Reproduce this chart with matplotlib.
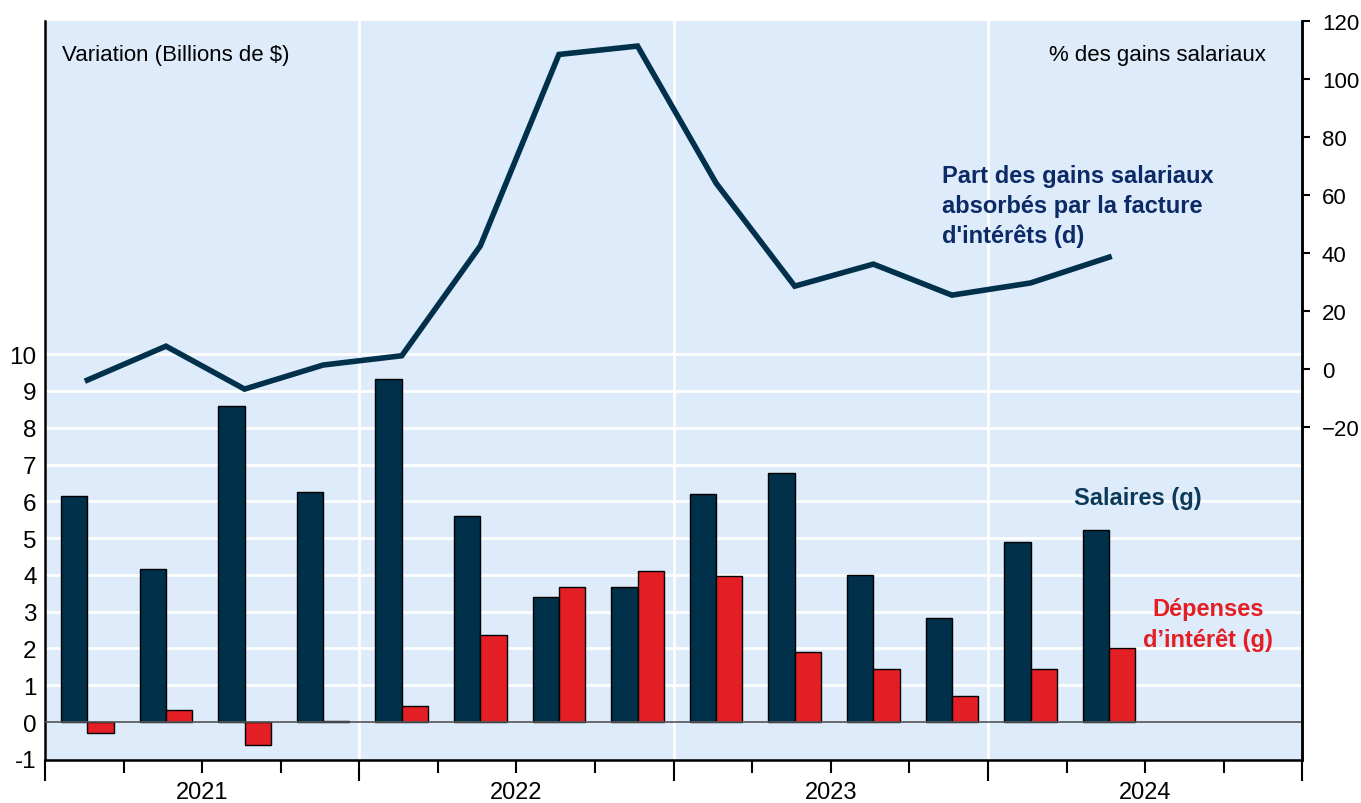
import numpy as np
import matplotlib.pyplot as plt

plt.rcParams['font.family'] = ['Liberation Sans', 'DejaVu Sans']

# quarterly data, 2021T1 to 2024T2
years = ["2021", "2022", "2023", "2024"]
salaires = [6.15, 4.15, 8.58, 6.25, 9.32, 5.6, 3.4, 3.68, 6.2, 6.77, 4.0, 2.83, 4.9, 5.22]
depenses = [-0.3, 0.33, -0.62, 0.03, 0.43, 2.36, 3.68, 4.1, 3.97, 1.9, 1.44, 0.7, 1.44, 2.0]
part = [-3.8, 7.9, -6.9, 1.4, 4.6, 42.5, 108.5, 111.4, 64.1, 28.6, 36.2, 25.5, 29.7, 38.6]

navy = '#00304A'
red = '#E31E24'
bg = '#DDEBFB'

fig = plt.figure(figsize=(13.61, 8.04), dpi=100)
ax = fig.add_axes([0.033, 0.0535, 0.924, 0.919])
ax.set_facecolor(bg)

x = np.arange(len(salaires))
w = 0.335
ax.bar(x - w / 2 + 0.04, salaires, w, color=navy, edgecolor='black', linewidth=1, zorder=3)
ax.bar(x + w / 2 + 0.04, depenses, w, color=red, edgecolor='black', linewidth=1, zorder=3)

ax.set_xlim(-0.5, 15.5)
ax.set_ylim(-1.03, 19.05)

# white grid lines
for v in range(1, 11):
    ax.axhline(v, color='white', lw=2, zorder=1)
for b in [3.5, 7.5, 11.5]:
    ax.axvline(b, color='white', lw=2, zorder=1)
ax.axhline(0, color='#555555', lw=1.2, zorder=4)

ax.set_yticks(range(-1, 11))
ax.set_yticklabels([str(v) for v in range(-1, 11)])
ax.tick_params(axis='y', length=0, labelsize=17.5, pad=6)

ax.set_xticks([-0.5, 3.5, 7.5, 11.5, 15.5])
ax.set_xticklabels([])
ax.set_xticks(np.arange(-0.5, 15.6, 1), minor=True)
ax.tick_params(axis='x', which='major', length=15, width=1.5, direction='out')
ax.tick_params(axis='x', which='minor', length=9, width=1.5, direction='out')
for i, yr in enumerate(years):
    ax.text(4 * i + 1.5, -0.043, yr, transform=ax.get_xaxis_transform(),
            ha='center', va='center', fontsize=17)

for s in ['left', 'bottom', 'right']:
    ax.spines[s].set_linewidth(1.8)
ax.spines['top'].set_visible(False)

ax2 = ax.twinx()
ax2.plot(x + 0.04, part, color=navy, lw=4, solid_joinstyle='miter', zorder=5)
ax2.set_ylim(-134.8, 120)
ax2.set_yticks(range(-20, 121, 20))
ax2.tick_params(axis='y', length=6, width=1.5, labelsize=16, pad=8)
ax2.spines['top'].set_visible(False)
ax2.spines['right'].set_linewidth(1.8)
ax2.spines['left'].set_visible(False)

ax.text(0.0135, 0.955, "Variation (Billions de $)", transform=ax.transAxes,
        ha='left', va='center', fontsize=16)
ax.text(0.9706, 0.955, "% des gains salariaux", transform=ax.transAxes,
        ha='right', va='center', fontsize=16)

ax2.text(10.92, 70.8, "Part des gains salariaux\nabsorbés par la facture\nd'intérêts (d)",
         ha='left', va='top', fontsize=17, fontweight='bold', color='#0B2A66',
         linespacing=1.38)
ax.text(13.4, 6.09, "Salaires (g)", ha='center', va='center', fontsize=17,
        fontweight='bold', color='#0B3A5B')
ax.text(14.3, 2.66, "Dépenses\nd’intérêt (g)", ha='center', va='center', fontsize=17,
        fontweight='bold', color=red, linespacing=1.38)

fig.savefig('out.png', dpi=100)
